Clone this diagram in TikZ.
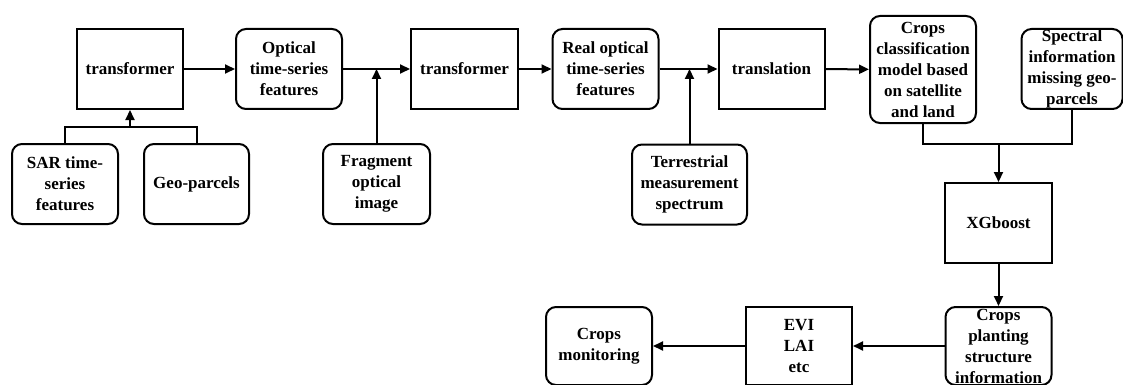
\documentclass[tikz,border=0pt]{standalone}
\usepackage{fontspec}
\setmainfont{Liberation Serif}
\usetikzlibrary{arrows.meta}
\begin{document}
\begin{tikzpicture}[x=1pt,y=-1pt,
  box/.style={draw, line width=2pt, minimum width=106pt, minimum height=80pt, inner sep=0pt},
  rbox/.style={box, rounded corners=10pt},
  txt/.style={align=center, inner sep=0pt, font=\fontsize{17}{21}\selectfont\bfseries},
  flow/.style={line width=2pt, -{Triangle[length=10pt,width=9pt]}},
  wire/.style={line width=2pt}]
\useasboundingbox (0,0) rectangle (1123,385);

% top row
\node[box, label={[txt]center:transformer}] (t1) at (130,69) {};
\node[rbox, label={[txt]center:{Optical\\time-series\\features}}] (opt) at (289,69) {};
\node[box, minimum width=107pt, label={[txt]center:transformer}] (t2) at (464.5,69) {};
\node[rbox, label={[txt]center:{Real optical\\time-series\\features}}] (real) at (605.5,69) {};
\node[box, label={[txt]center:translation}] (trans) at (771.5,69) {};
\node[rbox, minimum height=107pt, label={[txt]center:{Crops\\classification\\model based\\on satellite\\and land}}] (cls) at (923,69.5) {};
\node[rbox, minimum width=101pt, label={[txt]center:{Spectral\\information\\missing geo-\\parcels}}] (spec) at (1072,69) {};

% inputs below the top row
\node[rbox, label={[txt]center:{SAR time-\\series\\features}}] (sar) at (65,184) {};
\node[rbox, minimum width=105pt, label={[txt]center:Geo-parcels}] (geo) at (196.5,184) {};
\node[rbox, minimum width=107pt, label={[txt]center:{Fragment\\optical\\image}}] (frag) at (376.5,184) {};
\node[rbox, minimum width=115pt, label={[txt]center:{Terrestrial\\measurement\\spectrum}}] (terr) at (689.5,184.5) {};

% right column and bottom row
\node[box, minimum width=107pt, label={[txt]center:XGboost}] (xgb) at (998.5,223) {};
\node[rbox, minimum height=78pt, label={[txt]center:{Crops\\planting\\structure\\information}}] (plant) at (998.5,346) {};
\node[box, minimum height=78pt, label={[txt]center:{EVI\\LAI\\etc}}] (evi) at (799,346) {};
\node[rbox, minimum height=78pt, label={[txt]center:{Crops\\monitoring}}] (mon) at (599,346) {};

% junction points
\coordinate (jb) at (130,127);
\coordinate (jf) at (frag.north |- opt.east);
\coordinate (jt) at (terr.north |- real.east);
\coordinate (jc) at (xgb.north |- 0,144);

% connectors
\draw[wire] (sar.north) -- (sar.north |- jb) -- (geo.north |- jb) -- (geo.north);
\draw[flow] (jb) -- (t1.south);
\draw[flow] (t1) -- (opt);
\draw[flow] (opt) -- (t2);
\draw[flow] (frag) -- (jf);
\draw[flow] (t2) -- (real);
\draw[flow] (real) -- (trans);
\draw[flow] (terr) -- (jt);
\draw[flow] (trans) -- (cls);
\draw[wire] (cls.south) -- (cls.south |- jc) -- (spec.south |- jc) -- (spec.south);
\draw[flow] (jc) -- (xgb.north);
\draw[flow] (xgb) -- (plant);
\draw[flow] (plant) -- (evi);
\draw[flow] (evi) -- (mon);
\end{tikzpicture}
\end{document}
